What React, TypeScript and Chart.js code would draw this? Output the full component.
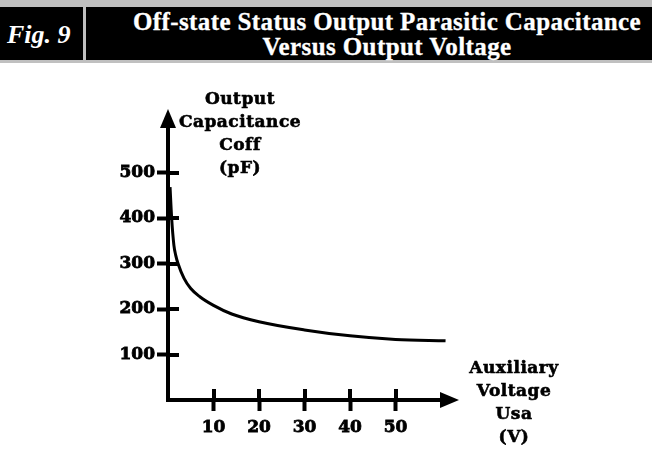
import React, { useEffect, useRef } from "react";
import { Chart, registerables } from "chart.js";

Chart.register(...registerables);

const voltage = [0.45, 0.8, 1.3, 1.7, 2.2, 3.5, 5, 7, 10, 14, 20, 30, 40, 50, 61];
const capacitance = [468, 400, 340, 318, 300, 268, 245, 227, 208, 189, 172, 154, 141, 133, 130];
const xTickValues = [10, 20, 30, 40, 50];
const yTickValues = [100, 200, 300, 400, 500];
const yTitleLines = ["Output", "Capacitance", "Coff", "(pF)"];
const xTitleLines = ["Auxiliary", "Voltage", "Usa", "(V)"];
const figLabel = "Fig. 9";
const titleLines = ["Off-state Status Output Parasitic Capacitance", "Versus Output Voltage"];

const tickFont = { family: "'DejaVu Serif'", weight: "bold" as const, size: 17 };

const axisDecor = {
  id: "axisDecor",
  afterDraw(chart: any) {
    const { ctx, chartArea } = chart;
    const { left, right, top, bottom } = chartArea;
    const xs = chart.scales.x;
    const ys = chart.scales.y;
    ctx.save();
    ctx.fillStyle = "#000";
    ctx.strokeStyle = "#000";
    // x arrow
    ctx.beginPath();
    ctx.moveTo(right - 1, bottom - 8);
    ctx.lineTo(right + 18, bottom);
    ctx.lineTo(right - 1, bottom + 8);
    ctx.closePath();
    ctx.fill();
    // y arrow
    ctx.beginPath();
    ctx.moveTo(left - 8, top + 1);
    ctx.lineTo(left, top - 18);
    ctx.lineTo(left + 8, top + 1);
    ctx.closePath();
    ctx.fill();
    // inner halves of tick marks
    ctx.lineWidth = 4;
    ctx.beginPath();
    for (const v of yTickValues) {
      const y = Math.round(ys.getPixelForValue(v));
      ctx.moveTo(left, y);
      ctx.lineTo(left + 11, y);
    }
    for (const v of xTickValues) {
      const x = Math.round(xs.getPixelForValue(v));
      ctx.moveTo(x, bottom);
      ctx.lineTo(x, bottom - 11);
    }
    ctx.stroke();
    ctx.restore();
  },
};

function CapChart() {
  const ref = useRef<HTMLCanvasElement | null>(null);
  useEffect(() => {
    if (!ref.current) return;
    const chart = new Chart(ref.current, {
      type: "line",
      data: {
        datasets: [
          {
            data: voltage.map((v, i) => ({ x: v, y: capacitance[i] })),
            borderColor: "#000",
            borderWidth: 3,
            pointRadius: 0,
            cubicInterpolationMode: "monotone",
            fill: false,
            clip: false as any,
          },
        ],
      },
      options: {
        responsive: false,
        animation: false,
        layout: { padding: { left: 0, top: 127, right: 211, bottom: 0 } },
        plugins: { legend: { display: false }, tooltip: { enabled: false } },
        scales: {
          x: {
            type: "linear",
            min: 0,
            max: 60,
            afterBuildTicks: (s: any) => {
              s.ticks = xTickValues.map((v) => ({ value: v }));
            },
            afterFit: (s: any) => {
              s.height = 73;
            },
            grid: { drawOnChartArea: false, drawTicks: true, tickLength: 11, tickWidth: 4, tickColor: "#000" },
            border: { display: true, color: "#000", width: 4 },
            ticks: {
              color: "#000",
              font: tickFont,
              padding: 6,
              maxRotation: 0,
              autoSkip: false,
              textStrokeColor: "#000",
              textStrokeWidth: 0.8,
            },
          },
          y: {
            type: "linear",
            min: 0,
            max: 600,
            afterBuildTicks: (s: any) => {
              s.ticks = yTickValues.map((v) => ({ value: v }));
            },
            afterFit: (s: any) => {
              s.width = 168;
            },
            grid: { drawOnChartArea: false, drawTicks: true, tickLength: 11, tickWidth: 4, tickColor: "#000" },
            border: { display: true, color: "#000", width: 4 },
            ticks: {
              color: "#000",
              font: tickFont,
              padding: 2,
              autoSkip: false,
              textStrokeColor: "#000",
              textStrokeWidth: 0.8,
            },
          },
        },
      },
      plugins: [axisDecor],
    });
    return () => chart.destroy();
  }, []);
  return (
    <canvas
      ref={ref}
      width={652}
      height={473}
      style={{ position: "absolute", left: 0, top: 0, width: 652, height: 473 }}
    />
  );
}

export default function App() {
  const serifTitle = "'Liberation Serif', 'Times New Roman', serif";
  const axisFont = "'DejaVu Serif', serif";
  return (
    <div style={{ position: "absolute", left: 0, top: 0, width: 652, height: 473, background: "#fff", overflow: "hidden" }}>
      <CapChart />
      <div style={{ position: "absolute", left: 0, top: 0, width: 652, height: 63, background: "#c0c0c0" }} />
      <div style={{ position: "absolute", left: 0, top: 7, width: 652, height: 53, background: "#000" }} />
      <div style={{ position: "absolute", left: 83, top: 7, width: 3, height: 53, background: "#c0c0c0" }} />
      <div
        style={{
          position: "absolute",
          left: 7,
          top: 22,
          font: `italic bold 26px ${serifTitle}`,
          lineHeight: "26px",
          color: "#fff",
          whiteSpace: "nowrap",
        }}
      >
        {figLabel}
      </div>
      <div
        style={{
          position: "absolute",
          left: 122,
          top: 10,
          width: 530,
          textAlign: "center",
          font: `bold 25px ${serifTitle}`,
          lineHeight: "24.5px",
          letterSpacing: "0.4px",
          color: "#fff",
          whiteSpace: "nowrap",
          WebkitTextStroke: "0.3px #fff",
        }}
      >
        {titleLines.map((t) => (
          <div key={t}>{t}</div>
        ))}
      </div>
      <div
        style={{
          position: "absolute",
          left: 140,
          top: 86.6,
          width: 200,
          textAlign: "center",
          font: `bold 17px ${axisFont}`,
          lineHeight: "23px",
          letterSpacing: "0.5px",
          color: "#000",
          WebkitTextStroke: "0.6px #000",
        }}
      >
        {yTitleLines.map((t) => (
          <div key={t}>{t}</div>
        ))}
      </div>
      <div
        style={{
          position: "absolute",
          left: 414,
          top: 355.6,
          width: 200,
          textAlign: "center",
          font: `bold 17px ${axisFont}`,
          lineHeight: "23px",
          letterSpacing: "0.5px",
          color: "#000",
          WebkitTextStroke: "0.6px #000",
        }}
      >
        {xTitleLines.map((t) => (
          <div key={t}>{t}</div>
        ))}
      </div>
    </div>
  );
}
